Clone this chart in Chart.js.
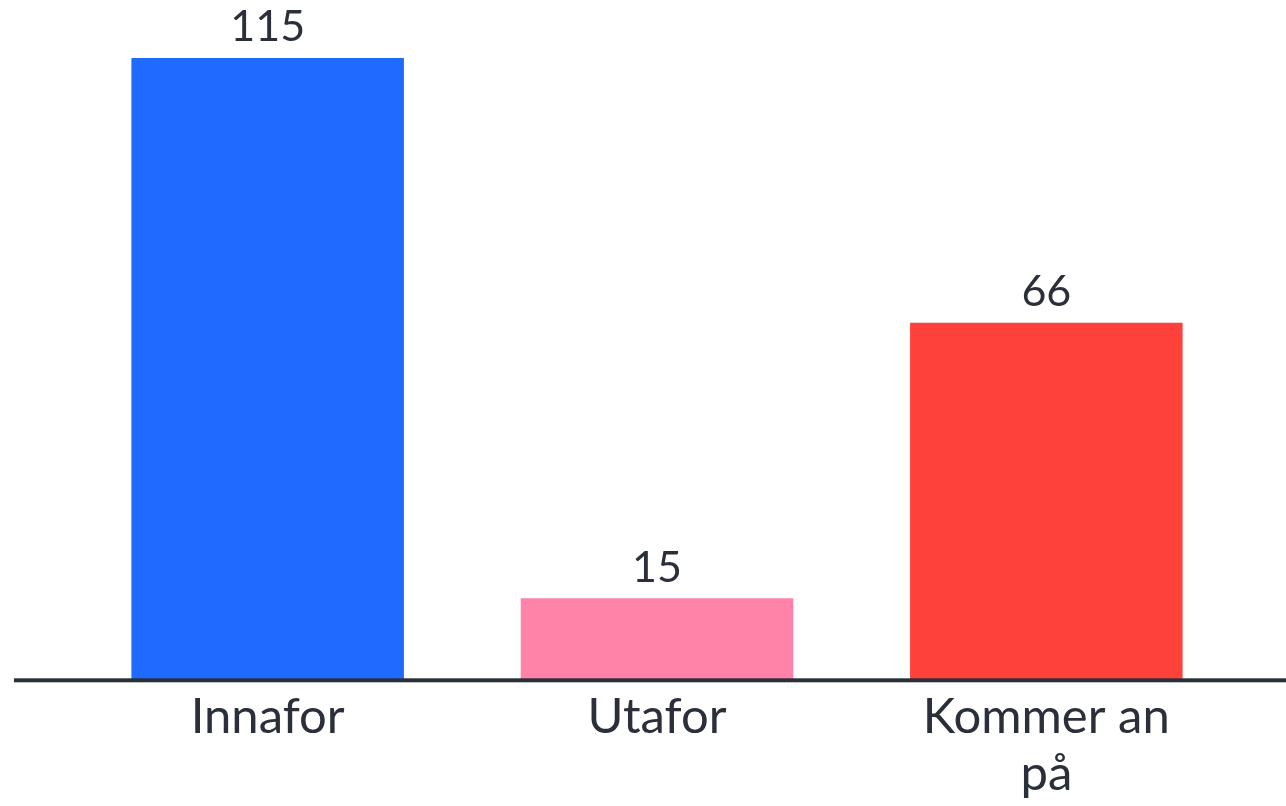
<!DOCTYPE html>
<html>
<head>
<meta charset="utf-8">
<script src="https://cdn.jsdelivr.net/npm/chart.js@4"></script>
<style>
  html, body { margin: 0; padding: 0; background: #ffffff; }
  #wrap { width: 1286px; height: 806px; position: relative; }
</style>
</head>
<body>
<div id="wrap"><canvas id="myChart"></canvas></div>
<script>
const categories = ["Innafor", "Utafor", ["Kommer an", "på"]];
const values = [115, 15, 66];
const barColors = ["#1f6bff", "#ff82a9", "#ff413c"];

const textColor = "#2a2f3a";
const fontFamily = "Lato, 'Open Sans', sans-serif";

// baseline runs past the plot area on both sides, and value labels sit above bars
const extras = {
  id: "extras",
  afterDatasetsDraw(chart) {
    const ctx = chart.ctx;
    const y0 = chart.scales.y.getPixelForValue(0);
    ctx.save();
    ctx.fillStyle = textColor;
    ctx.fillRect(14, y0 - 1, chart.width - 14, 4);

    ctx.font = "43px " + fontFamily;
    ctx.textAlign = "center";
    ctx.textBaseline = "bottom";
    chart.getDatasetMeta(0).data.forEach((bar, i) => {
      ctx.fillText(String(values[i]), bar.x, bar.y - 9);
    });
    ctx.restore();
  },
};

const ctx = document.getElementById("myChart").getContext("2d");
const myChart = new Chart(ctx, {
  type: "bar",
  data: {
    labels: categories,
    datasets: [
      {
        data: values,
        backgroundColor: barColors,
        borderWidth: 0,
        categoryPercentage: 0.7,
        barPercentage: 1,
      },
    ],
  },
  options: {
    responsive: true,
    maintainAspectRatio: false,
    animation: false,
    layout: {
      padding: { left: 73, right: 45, top: 31, bottom: -6 },
    },
    scales: {
      x: {
        grid: { display: false, drawTicks: false },
        border: { display: false },
        ticks: {
          color: textColor,
          font: { family: fontFamily, size: 49, lineHeight: 1.15 },
          padding: 10,
          maxRotation: 0,
          autoSkip: false,
        },
      },
      y: {
        display: false,
        beginAtZero: true,
        min: 0,
        max: 120,
      },
    },
    plugins: {
      legend: { display: false },
      tooltip: { enabled: false },
    },
  },
  plugins: [extras],
});
</script>
</body>
</html>
